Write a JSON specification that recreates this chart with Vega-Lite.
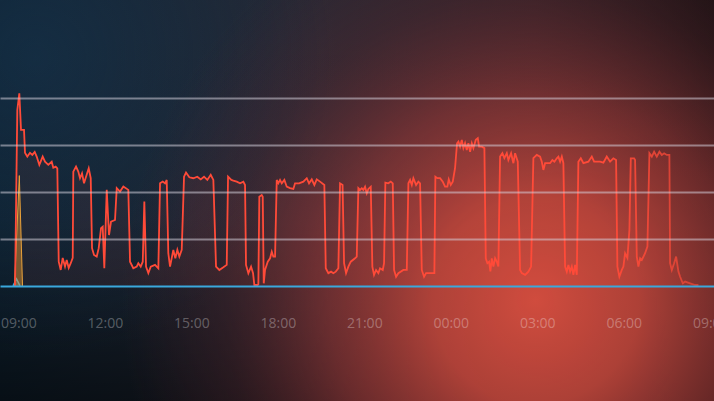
{
  "$schema": "https://vega.github.io/schema/vega-lite/v6.json",
  "width": 714,
  "height": 401,
  "autosize": "none",
  "padding": 0,
  "background": "#141418",
  "config": {"view": {"stroke": null}},
  "datasets": {
    "series": [
      {"h":-0.114,"v":0},{"h":-0.035,"v":93.6},{"h":0.035,"v":102.5},{"h":0.094,"v":83},{"h":0.198,"v":83},{"h":0.232,"v":70.8},{"h":0.312,"v":68.8},{"h":0.406,"v":70.8},{"h":0.486,"v":69.7},{"h":0.569,"v":71.3},{"h":0.638,"v":68.8},{"h":0.729,"v":64.4},{"h":0.846,"v":68.8},{"h":0.926,"v":66.1},{"h":1.041,"v":64.4},{"h":1.159,"v":66.1},{"h":1.214,"v":62.9},{"h":1.297,"v":63.5},{"h":1.353,"v":62.6},{"h":1.402,"v":12.9},{"h":1.471,"v":8.5},{"h":1.540,"v":14.9},{"h":1.620,"v":10.3},{"h":1.679,"v":13.8},{"h":1.748,"v":9.6},{"h":1.818,"v":12.1},{"h":1.887,"v":14.9},{"h":1.908,"v":60.8},{"h":2.002,"v":63.5},{"h":2.081,"v":60.8},{"h":2.140,"v":57.3},{"h":2.210,"v":59.9},{"h":2.279,"v":54.6},{"h":2.349,"v":58.1},{"h":2.442,"v":62.6},{"h":2.512,"v":57.3},{"h":2.557,"v":20.1},{"h":2.626,"v":16.5},{"h":2.720,"v":15.6},{"h":2.789,"v":20.1},{"h":2.869,"v":30.7},{"h":2.928,"v":31.5},{"h":2.983,"v":9.4},{"h":3.067,"v":51.1},{"h":3.146,"v":27.1},{"h":3.216,"v":34.2},{"h":3.354,"v":35.1},{"h":3.414,"v":52.0},{"h":3.528,"v":50.2},{"h":3.643,"v":52.9},{"h":3.816,"v":51.1},{"h":3.875,"v":12.9},{"h":3.989,"v":9.4},{"h":4.107,"v":10.3},{"h":4.163,"v":12.1},{"h":4.246,"v":10.3},{"h":4.316,"v":12.9},{"h":4.371,"v":44.9},{"h":4.430,"v":10.3},{"h":4.510,"v":6.8},{"h":4.593,"v":10.3},{"h":4.742,"v":11.2},{"h":4.857,"v":9.4},{"h":4.916,"v":54.6},{"h":5.009,"v":55.5},{"h":5.089,"v":54.6},{"h":5.148,"v":56.4},{"h":5.203,"v":17.4},{"h":5.263,"v":10.3},{"h":5.377,"v":19.2},{"h":5.446,"v":14.7},{"h":5.516,"v":19.2},{"h":5.585,"v":15.6},{"h":5.668,"v":19.2},{"h":5.748,"v":58.1},{"h":5.817,"v":60.3},{"h":5.932,"v":57.8},{"h":6.071,"v":57.3},{"h":6.209,"v":58.1},{"h":6.327,"v":56.7},{"h":6.442,"v":58.1},{"h":6.556,"v":56.4},{"h":6.674,"v":59.1},{"h":6.765,"v":56.4},{"h":6.858,"v":10.3},{"h":6.973,"v":8.5},{"h":7.111,"v":9.9},{"h":7.229,"v":11.2},{"h":7.275,"v":58.1},{"h":7.389,"v":56.4},{"h":7.458,"v":56.0},{"h":7.576,"v":55.5},{"h":7.691,"v":54.6},{"h":7.805,"v":55.5},{"h":7.864,"v":53.7},{"h":7.898,"v":11.2},{"h":7.979,"v":6.8},{"h":8.073,"v":10.3},{"h":8.142,"v":6.8},{"h":8.187,"v":0.5},{"h":8.298,"v":0.5},{"h":8.326,"v":1},{"h":8.360,"v":47.5},{"h":8.443,"v":48.4},{"h":8.478,"v":47.5},{"h":8.513,"v":1.4},{"h":8.558,"v":8.5},{"h":8.652,"v":12.9},{"h":8.732,"v":14.7},{"h":8.791,"v":18.2},{"h":8.846,"v":15.6},{"h":8.905,"v":15.6},{"h":8.964,"v":56.4},{"h":9.019,"v":54.6},{"h":9.078,"v":56.4},{"h":9.137,"v":54.6},{"h":9.228,"v":56.4},{"h":9.311,"v":52.8},{"h":9.425,"v":52.0},{"h":9.540,"v":51.6},{"h":9.598,"v":54.6},{"h":9.737,"v":54.6},{"h":9.887,"v":55.5},{"h":10.005,"v":57.3},{"h":10.084,"v":54.6},{"h":10.178,"v":56.7},{"h":10.268,"v":53.7},{"h":10.351,"v":56.7},{"h":10.466,"v":55.5},{"h":10.615,"v":53.7},{"h":10.664,"v":9.4},{"h":10.754,"v":6.8},{"h":10.848,"v":7.6},{"h":10.927,"v":6.8},{"h":11.010,"v":7.6},{"h":11.101,"v":9.4},{"h":11.160,"v":54.6},{"h":11.247,"v":53.7},{"h":11.299,"v":12.1},{"h":11.368,"v":6.8},{"h":11.448,"v":10.3},{"h":11.531,"v":12.9},{"h":11.680,"v":14.7},{"h":11.739,"v":15.6},{"h":11.795,"v":52.0},{"h":11.854,"v":51.1},{"h":11.913,"v":52.0},{"h":11.968,"v":51.1},{"h":12.027,"v":52.8},{"h":12.086,"v":49.3},{"h":12.142,"v":51.6},{"h":12.225,"v":52.8},{"h":12.280,"v":10.3},{"h":12.339,"v":5.9},{"h":12.409,"v":8.5},{"h":12.489,"v":6.8},{"h":12.547,"v":9.4},{"h":12.641,"v":8.5},{"h":12.686,"v":12.1},{"h":12.731,"v":55.0},{"h":12.835,"v":54.6},{"h":12.919,"v":55.5},{"h":12.988,"v":54.6},{"h":13.033,"v":8.5},{"h":13.103,"v":4.9},{"h":13.182,"v":6.8},{"h":13.356,"v":8.5},{"h":13.474,"v":8.5},{"h":13.530,"v":54.6},{"h":13.589,"v":56.4},{"h":13.648,"v":53.7},{"h":13.703,"v":57.3},{"h":13.797,"v":53.7},{"h":13.876,"v":55.5},{"h":13.935,"v":54.6},{"h":13.994,"v":8.5},{"h":14.074,"v":4.9},{"h":14.143,"v":6.8},{"h":14.282,"v":6.8},{"h":14.431,"v":6.8},{"h":14.466,"v":58.1},{"h":14.535,"v":57.3},{"h":14.629,"v":57.3},{"h":14.722,"v":55.5},{"h":14.802,"v":52.8},{"h":14.882,"v":52.8},{"h":14.930,"v":56.7},{"h":14.999,"v":53.7},{"h":15.069,"v":55.5},{"h":15.148,"v":62.6},{"h":15.218,"v":75.9},{"h":15.264,"v":76.8},{"h":15.323,"v":74.1},{"h":15.382,"v":77.7},{"h":15.437,"v":73.3},{"h":15.496,"v":75.9},{"h":15.555,"v":72.3},{"h":15.611,"v":75.9},{"h":15.670,"v":71.4},{"h":15.729,"v":75.9},{"h":15.784,"v":73.3},{"h":15.868,"v":77.7},{"h":15.937,"v":78.6},{"h":15.982,"v":74.1},{"h":16.076,"v":74.1},{"h":16.166,"v":73.3},{"h":16.214,"v":14.7},{"h":16.270,"v":12.1},{"h":16.329,"v":12.9},{"h":16.374,"v":7.7},{"h":16.422,"v":14.7},{"h":16.478,"v":10.3},{"h":16.537,"v":14.7},{"h":16.596,"v":12.9},{"h":16.651,"v":10.3},{"h":16.710,"v":68.8},{"h":16.790,"v":70.6},{"h":16.859,"v":68.0},{"h":16.943,"v":70.6},{"h":16.998,"v":67.0},{"h":17.092,"v":70.6},{"h":17.172,"v":65.3},{"h":17.231,"v":70.6},{"h":17.324,"v":66.1},{"h":17.404,"v":8.5},{"h":17.463,"v":6.8},{"h":17.577,"v":5.9},{"h":17.692,"v":7.6},{"h":17.786,"v":10.3},{"h":17.865,"v":68.0},{"h":17.983,"v":69.7},{"h":18.098,"v":68.8},{"h":18.157,"v":66.1},{"h":18.212,"v":61.7},{"h":18.271,"v":65.3},{"h":18.365,"v":65.3},{"h":18.445,"v":65.3},{"h":18.524,"v":67.0},{"h":18.594,"v":66.1},{"h":18.677,"v":67.9},{"h":18.733,"v":68.8},{"h":18.792,"v":66.1},{"h":18.851,"v":68.8},{"h":18.906,"v":65.3},{"h":18.965,"v":10.3},{"h":19.024,"v":7.6},{"h":19.080,"v":11.2},{"h":19.139,"v":7.6},{"h":19.198,"v":10.3},{"h":19.253,"v":5.9},{"h":19.312,"v":11.2},{"h":19.371,"v":5.9},{"h":19.426,"v":66.1},{"h":19.510,"v":67.9},{"h":19.600,"v":65.3},{"h":19.773,"v":66.1},{"h":19.891,"v":68.8},{"h":19.971,"v":66.1},{"h":20.179,"v":66.1},{"h":20.293,"v":65.6},{"h":20.411,"v":68.8},{"h":20.526,"v":66.1},{"h":20.640,"v":67.9},{"h":20.734,"v":67.0},{"h":20.779,"v":10.3},{"h":20.848,"v":4.9},{"h":20.932,"v":8.5},{"h":20.987,"v":10.3},{"h":21.046,"v":17.4},{"h":21.126,"v":14.9},{"h":21.196,"v":29.8},{"h":21.244,"v":67.9},{"h":21.359,"v":67.9},{"h":21.393,"v":67.0},{"h":21.452,"v":15.6},{"h":21.508,"v":10.3},{"h":21.567,"v":14.7},{"h":21.626,"v":13.8},{"h":21.740,"v":17.4},{"h":21.820,"v":20.9},{"h":21.890,"v":70.6},{"h":21.973,"v":68.8},{"h":22.053,"v":71.4},{"h":22.146,"v":68.8},{"h":22.236,"v":71.4},{"h":22.320,"v":69.7},{"h":22.400,"v":70.6},{"h":22.493,"v":69.7},{"h":22.583,"v":69.7},{"h":22.607,"v":12.1},{"h":22.666,"v":8.5},{"h":22.746,"v":12.1},{"h":22.816,"v":15.6},{"h":22.896,"v":7.6},{"h":22.955,"v":4.9},{"h":23.048,"v":1.4},{"h":23.128,"v":2.3},{"h":23.302,"v":1.4},{"h":23.475,"v":0.5},{"h":23.590,"v":0.5}
    ],
    "orange": [{"h":-0.132,"v":0},{"h":0.035,"v":58.7},{"h":0.146,"v":0}],
    "blue": [{"h":-0.184,"v":0},{"h":-0.062,"v":3.7},{"h":0.059,"v":0}],
    "one": [{}]
  },
  "layer": [
    {
      "data": {"name": "one"},
      "mark": {"type": "rect", "color": {"gradient": "linear", "x1": 0, "y1": 0, "x2": 1, "y2": 0, "stops": [{"offset": 0, "color": "#0f2130"}, {"offset": 0.45, "color": "#282833"}, {"offset": 0.75, "color": "#2c2026"}, {"offset": 1, "color": "#161012"}]}},
      "encoding": {
        "x": {"datum": -0.635, "type": "quantitative", "title": null, "scale": {"domain": [-0.635, 24.13], "nice": false, "zero": false}},
        "x2": {"datum": 24.13},
        "y": {"datum": -61.2, "type": "quantitative", "title": null, "scale": {"domain": [-61.2, 152.1], "nice": false, "zero": false}},
        "y2": {"datum": 152.1}
      }
    },
    {
      "data": {"name": "one"},
      "mark": {"type": "rect", "color": {"gradient": "linear", "x1": 0, "y1": 0, "x2": 0, "y2": 1, "stops": [{"offset": 0, "color": "rgba(0,0,0,0)"}, {"offset": 0.55, "color": "rgba(0,0,0,0.05)"}, {"offset": 1, "color": "rgba(0,0,0,0.55)"}]}},
      "encoding": {
        "x": {"datum": -0.635, "type": "quantitative", "title": null},
        "x2": {"datum": 24.13},
        "y": {"datum": -61.2, "type": "quantitative", "title": null},
        "y2": {"datum": 152.1}
      }
    },
    {
      "data": {"name": "one"},
      "mark": {"type": "rect", "color": {"gradient": "radial", "x1": 0.05, "y1": 0.3, "x2": 0.05, "y2": 0.3, "r1": 0, "r2": 0.42, "stops": [{"offset": 0, "color": "rgba(22,52,78,0.6)"}, {"offset": 1, "color": "rgba(22,52,78,0)"}]}},
      "encoding": {
        "x": {"datum": -0.635, "type": "quantitative", "title": null},
        "x2": {"datum": 24.13},
        "y": {"datum": -61.2, "type": "quantitative", "title": null},
        "y2": {"datum": 152.1}
      }
    },
    {
      "data": {"name": "one"},
      "mark": {"type": "rect", "color": {"gradient": "radial", "x1": 0.75, "y1": 0.64, "x2": 0.75, "y2": 0.64, "r1": 0, "r2": 0.58, "stops": [{"offset": 0, "color": "rgba(208,76,62,1)"}, {"offset": 0.25, "color": "rgba(194,71,60,0.88)"}, {"offset": 0.5, "color": "rgba(155,57,56,0.62)"}, {"offset": 0.75, "color": "rgba(105,42,48,0.28)"}, {"offset": 1, "color": "rgba(90,35,45,0)"}]}},
      "encoding": {
        "x": {"datum": -0.635, "type": "quantitative", "title": null},
        "x2": {"datum": 24.13},
        "y": {"datum": -61.2, "type": "quantitative", "title": null},
        "y2": {"datum": 152.1}
      }
    },
    {
      "data": {"name": "blue"},
      "mark": {"type": "area", "color": "#3aa6dc", "fillOpacity": 0.25, "line": {"color": "#3aa6dc", "strokeWidth": 1.5}},
      "encoding": {
        "x": {"field": "h", "type": "quantitative", "title": null},
        "y": {"field": "v", "type": "quantitative", "title": null}
      }
    },
    {
      "data": {"name": "orange"},
      "mark": {"type": "area", "color": "#e0a030", "fillOpacity": 0.45, "line": {"color": "#e8a83a", "strokeWidth": 1}},
      "encoding": {
        "x": {"field": "h", "type": "quantitative", "title": null},
        "y": {"field": "v", "type": "quantitative", "title": null}
      }
    },
    {
      "data": {"name": "series"},
      "mark": {"type": "area", "color": "#ff5040", "opacity": 0.07},
      "encoding": {
        "x": {"field": "h", "type": "quantitative", "title": null},
        "y": {"field": "v", "type": "quantitative", "title": null}
      }
    },
    {
      "data": {"name": "series"},
      "mark": {"type": "line", "strokeWidth": 1.8, "strokeJoin": "miter", "color": {"gradient": "linear", "x1": 0, "y1": 0, "x2": 1, "y2": 0, "stops": [{"offset": 0, "color": "#ff4a38"}, {"offset": 0.86, "color": "#ff4a38"}, {"offset": 1, "color": "rgba(255,74,56,0.6)"}]}},
      "encoding": {
        "x": {"field": "h", "type": "quantitative", "title": null,
          "axis": {"values": [0, 3, 6, 9, 12, 15, 18, 21, 24], "labelExpr": "format((datum.value + 9) % 24, '02d') + ':00'", "offset": -74, "labelPadding": 0, "labelBaseline": "alphabetic", "ticks": false, "tickSize": 0, "domain": false, "grid": false, "labelFont": "Open Sans", "labelFontSize": 14, "labelColor": "#ffffff", "labelOpacity": 0.3, "labelOverlap": false, "labelFlush": false, "zindex": 1}},
        "y": {"field": "v", "type": "quantitative", "title": null,
          "axis": {"values": [0, 25, 50, 75, 100], "labels": false, "ticks": false, "domain": false, "grid": true, "gridWidth": 2, "gridColor": {"condition": {"test": "datum.value === 0", "value": "#3aa8dc"}, "value": "rgba(215,210,222,0.52)"}, "zindex": 1}}
      }
    }
  ]
}
